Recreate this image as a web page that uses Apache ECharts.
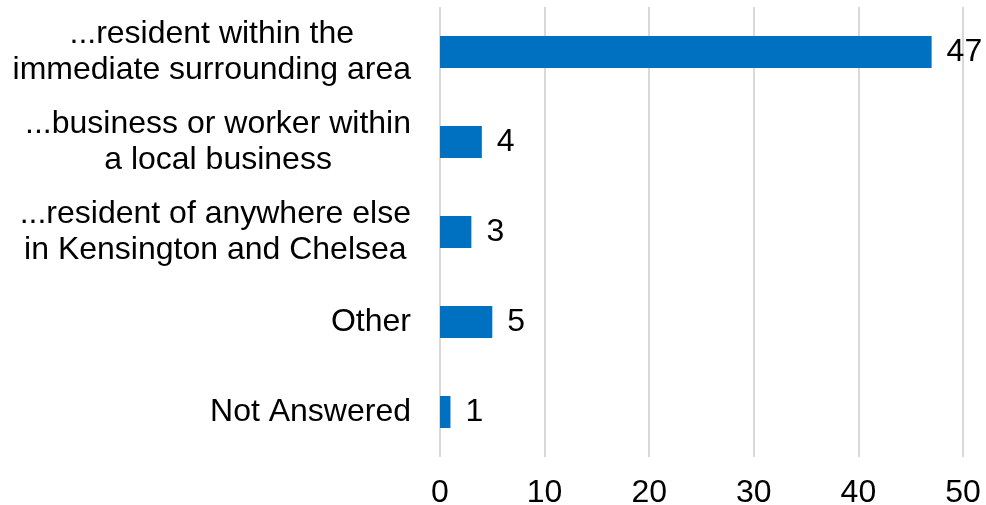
<!DOCTYPE html>
<html>
<head>
<meta charset="utf-8">
<style>
  html, body { margin: 0; padding: 0; background: #fff; }
  #chart { width: 986px; height: 505px; }
</style>
<script src="https://cdn.jsdelivr.net/npm/echarts@6/dist/echarts.min.js"></script>
</head>
<body>
<div id="chart"></div>
<script>
// Respondent types, top to bottom
const categories = [
  '...resident within the\nimmediate surrounding area',
  '...business or worker within\na local business',
  '...resident of anywhere else\nin Kensington and Chelsea',
  'Other',
  'Not Answered'
];
const counts = [47, 4, 3, 5, 1];
const xTicks = { min: 0, max: 50, interval: 10 };

const FONT = '"Liberation Sans", Arial, sans-serif';
const FS = 32;
const chart = echarts.init(document.getElementById('chart'));

chart.setOption({
  animation: false,
  grid: { left: 440, right: 23, top: 7, bottom: 48, containLabel: false, outerBoundsMode: 'none' },
  xAxis: {
    type: 'value',
    min: xTicks.min,
    max: xTicks.max,
    interval: xTicks.interval,
    axisLine: { show: false },
    axisTick: { show: false },
    splitLine: { lineStyle: { color: '#d9d9d9', width: 2 } },
    axisLabel: { color: '#000', fontSize: FS, fontFamily: FONT, margin: 20 }
  },
  yAxis: {
    type: 'category',
    inverse: true,
    data: categories,
    axisLine: { show: false },
    axisTick: { show: false },
    axisLabel: {
      margin: 29,
      align: 'right',
      color: '#000',
      fontSize: FS,
      fontFamily: FONT,
      // centre each line within the label block
      formatter: v => v.split('\n').map(l => '{c|' + l + '}').join('\n'),
      rich: { c: { align: 'center', fontSize: FS, lineHeight: 36, fontFamily: FONT, color: '#000' } }
    }
  },
  series: [{
    type: 'bar',
    data: counts,
    barWidth: 32,
    itemStyle: { color: '#0070C0' },
    label: {
      show: true,
      position: 'right',
      distance: 15,
      color: '#000',
      fontSize: FS,
      fontFamily: FONT
    }
  }]
});
</script>
</body>
</html>
